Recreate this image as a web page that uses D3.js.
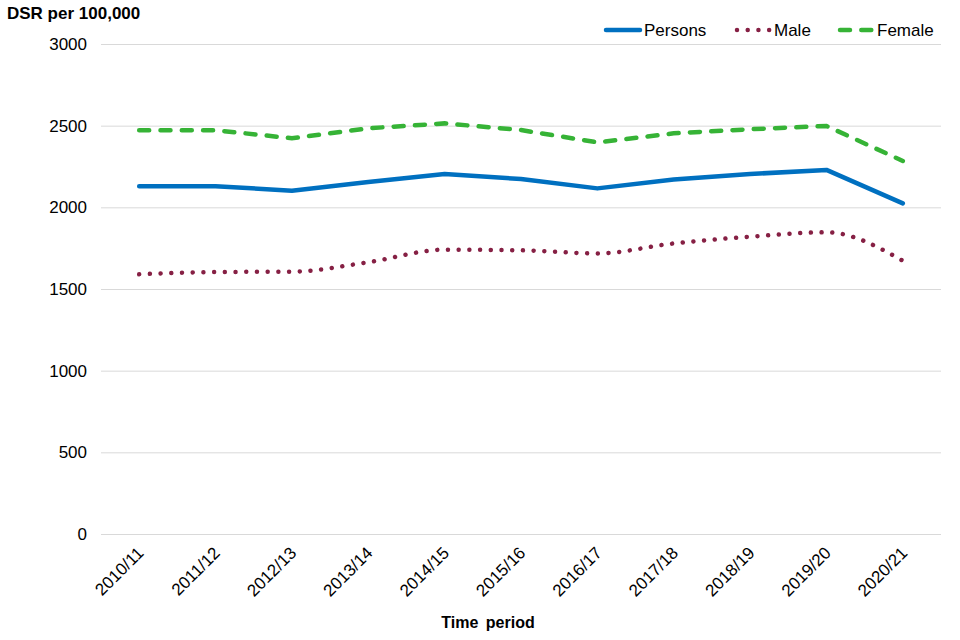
<!DOCTYPE html>
<html><head><meta charset="utf-8">
<script src="https://cdn.jsdelivr.net/npm/d3@7"></script>
<style>body{margin:0;background:#fff;font-family:"Liberation Sans",Arial,sans-serif;}</style>
</head><body><svg id="c" width="960" height="640"></svg>
<script>
const periods = ["2010/11","2011/12","2012/13","2013/14","2014/15","2015/16","2016/17","2017/18","2018/19","2019/20","2020/21"];
const persons = [2129,2129,2102,2155,2204,2173,2116,2171,2204,2229,2024];
const male    = [1590,1604,1606,1664,1741,1737,1718,1779,1820,1847,1673];
const female  = [2472,2472,2423,2484,2514,2473,2398,2453,2478,2498,2284];
const yTicks  = [0,500,1000,1500,2000,2500,3000];

const FONT = "Liberation Sans, Arial, sans-serif";
const svg = d3.select("#c");
const mLeft = 101, mRight = 941, mTop = 44, mBottom = 534;
const x = d3.scalePoint().domain(periods).range([mLeft, mRight]).padding(0.5);
const y = d3.scaleLinear().domain([0,3000]).range([mBottom, mTop]);

// gridlines
const yAxis = d3.axisLeft(y).tickValues(yTicks).tickSize(-(mRight-mLeft)).tickPadding(14).tickFormat(d3.format("d"));
const gy = svg.append("g").attr("transform",`translate(${mLeft},0)`).call(yAxis);
gy.select(".domain").remove();
gy.selectAll(".tick line").attr("stroke","#d9d9d9").attr("stroke-width",1);
gy.selectAll(".tick text").attr("font-size",17).attr("fill","#000").attr("font-family",FONT);

// x axis labels
const xAxis = d3.axisBottom(x).tickSize(0).tickPadding(0);
const gx = svg.append("g").attr("transform",`translate(0,${mBottom})`).call(xAxis);
gx.select(".domain").remove();
gx.selectAll(".tick text")
  .attr("font-size",17).attr("fill","#000").attr("font-family",FONT)
  .attr("text-anchor","end").attr("dy",0).attr("y",0)
  .attr("transform","translate(5,20) rotate(-45)");

const line = (vals, curve) => d3.line().x((d,i)=>x(periods[i])).y(d=>y(d)).curve(curve)(vals);

svg.append("path").attr("d",line(female,d3.curveLinear)).attr("fill","none")
  .attr("stroke","#36b336").attr("stroke-width",4.5).attr("stroke-linecap","round")
  .attr("stroke-dasharray","10 11.3");
svg.append("path").attr("d",line(persons,d3.curveLinear)).attr("fill","none")
  .attr("stroke","#0070c0").attr("stroke-width",4.5).attr("stroke-linejoin","round").attr("stroke-linecap","round");
svg.append("path").attr("d",line(male,d3.curveMonotoneX)).attr("fill","none")
  .attr("stroke","#862044").attr("stroke-width",4.5).attr("stroke-linecap","round")
  .attr("stroke-dasharray","0.01 10.7");

// titles
svg.append("text").attr("x",7).attr("y",19).attr("font-size",17).attr("font-weight","bold")
  .attr("font-family",FONT).text("DSR per 100,000");
svg.append("text").attr("x",488).attr("y",628).attr("text-anchor","middle").attr("font-size",16)
  .attr("font-weight","bold").attr("word-spacing",3).attr("font-family",FONT).text("Time period");

// legend
const legend = [
  {name:"Persons", color:"#0070c0", dash:null, x1:606, x2:640, tx:644},
  {name:"Male", color:"#862044", dash:"0.01 10.7", x1:737, x2:771, tx:774},
  {name:"Female", color:"#36b336", dash:"10 11.3", x1:840, x2:872, tx:877}
];
legend.forEach(l=>{
  svg.append("line").attr("x1",l.x1).attr("x2",l.x2).attr("y1",30).attr("y2",30)
    .attr("stroke",l.color).attr("stroke-width",4.5).attr("stroke-linecap","round")
    .attr("stroke-dasharray",l.dash);
  svg.append("text").attr("x",l.tx).attr("y",36).attr("font-size",17)
    .attr("font-family",FONT).text(l.name);
});
</script></body></html>
